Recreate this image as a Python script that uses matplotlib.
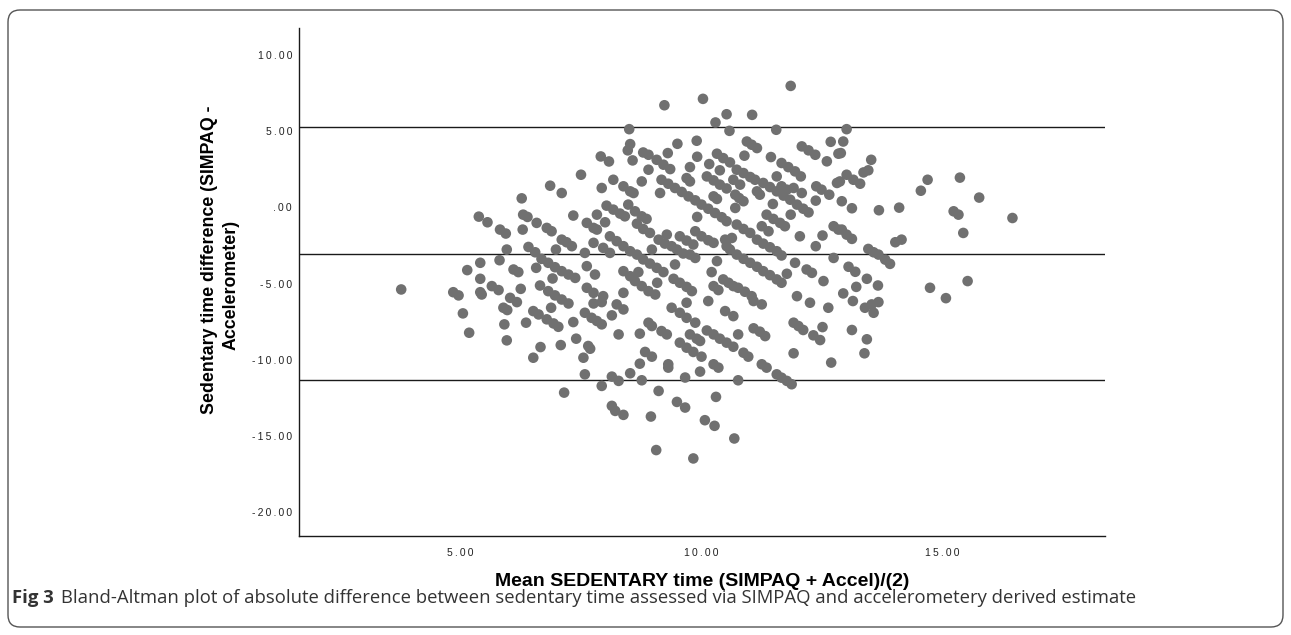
import matplotlib
matplotlib.use('Agg')
import matplotlib.pyplot as plt
from matplotlib.patches import FancyBboxPatch
from matplotlib.transforms import IdentityTransform
from matplotlib.ticker import FuncFormatter

# (mean, difference) pairs, grouped by region
pts_left = [(7.51, 2.14), (6.87, 1.42), (7.11, 0.94), (6.28, 0.59), (5.39, -0.61), (5.57, -0.98),
            (6.31, -0.48), (6.40, -0.63), (6.59, -1.02), (5.83, -1.46), (5.95, -1.72), (6.30, -1.46),
            (6.80, -1.35), (6.90, -1.57), (7.35, -0.54), (5.97, -2.77), (6.42, -2.60), (6.56, -2.95),
            (6.99, -2.77), (7.11, -2.12), (7.21, -2.29), (7.32, -2.55), (5.42, -3.64), (5.82, -3.47),
            (5.15, -4.12), (5.42, -4.69), (6.58, -3.97), (6.69, -3.38), (6.83, -3.64), (6.97, -3.93),
            (7.11, -4.19), (7.25, -4.41), (7.39, -4.63), (6.11, -4.08), (6.21, -4.25), (6.92, -4.67),
            (4.86, -5.57), (4.97, -5.78), (5.42, -5.57), (5.45, -5.72), (5.66, -5.17), (5.80, -5.43),
            (6.26, -5.35), (6.66, -5.13), (6.83, -5.50), (6.97, -5.78), (7.11, -6.05), (7.25, -6.31),
            (3.78, -5.39), (6.04, -5.94), (6.18, -6.22), (5.90, -6.59), (5.98, -6.74), (5.06, -6.96),
            (6.89, -6.59), (6.52, -6.81), (6.63, -7.03), (6.80, -7.35), (6.94, -7.62), (7.04, -7.84),
            (7.35, -7.53), (5.92, -7.68), (6.37, -7.57), (5.19, -8.23), (5.97, -8.73), (6.67, -9.17),
            (6.52, -9.87), (7.09, -9.04), (7.41, -8.62), (7.16, -12.16)]

pts_mid_top = [(11.86, 7.97), (9.24, 6.70), (10.04, 7.12), (10.53, 6.11), (10.30, 5.57), (11.06, 6.07),
               (8.51, 5.13), (10.59, 5.02), (11.56, 5.09), (8.53, 4.15), (8.48, 3.74), (8.58, 3.08),
               (8.80, 3.60), (8.91, 3.45), (9.31, 3.56), (9.51, 4.17), (9.91, 4.37), (9.92, 3.32),
               (7.92, 3.34), (8.09, 3.01), (9.08, 3.12), (9.22, 2.80), (9.36, 2.51), (10.17, 2.84),
               (10.33, 3.52), (10.46, 3.23), (10.60, 2.95), (10.90, 3.39), (10.95, 4.32), (11.05, 4.11),
               (11.16, 3.89), (11.45, 3.30), (12.09, 4.00), (12.23, 3.74), (12.37, 3.45), (12.69, 4.30),
               (12.61, 3.02), (12.85, 3.52), (11.67, 2.91), (11.81, 2.64), (11.95, 2.36), (12.07, 2.03),
               (8.91, 2.47), (8.77, 1.70), (8.39, 1.38), (8.53, 1.05), (8.60, 0.94), (8.18, 1.81),
               (7.94, 1.27), (9.18, 1.81), (9.32, 1.55), (9.46, 1.27), (9.60, 1.01), (9.74, 0.72),
               (9.88, 0.46), (10.01, 0.18), (10.15, -0.09), (10.29, -0.37), (10.43, -0.65), (10.53, -0.91),
               (9.77, 2.64), (9.70, 1.92), (9.77, 1.70), (10.12, 2.03), (10.26, 1.77), (10.39, 1.49),
               (10.53, 1.24), (10.39, 2.43), (10.74, 2.47), (10.88, 2.25), (11.02, 1.99), (11.12, 1.81),
               (10.67, 1.81), (10.81, 1.49), (11.29, 1.60), (11.43, 1.33), (11.57, 1.05), (11.71, 0.77),
               (11.85, 0.50), (11.99, 0.18), (12.12, -0.09), (12.23, -0.33), (11.57, 2.03), (11.67, 1.38),
               (11.78, 1.16), (11.92, 1.27), (12.09, 0.94), (12.39, 1.38), (12.50, 1.16), (12.82, 1.60),
               (12.66, 0.83), (12.38, 0.44), (9.15, 0.94), (10.26, 0.72), (10.33, 0.55), (10.71, 0.83),
               (10.79, 0.61), (10.88, 0.40), (10.71, -0.04), (11.16, 1.05), (11.22, 0.83), (11.49, 0.22),
               (11.86, -0.48), (12.05, -1.90), (7.63, -1.02), (7.77, -1.35), (7.84, -0.48), (7.84, -1.46),
               (8.04, 0.11), (8.18, -0.15), (8.32, -0.41), (8.42, -0.59), (8.01, -0.98), (8.49, 0.18),
               (8.63, -0.26), (8.77, -0.59), (8.87, -0.76), (8.67, -1.07), (8.80, -1.42), (8.94, -1.68),
               (8.98, -2.77), (9.12, -2.12), (9.25, -2.38), (9.39, -2.55), (9.29, -1.79), (9.56, -1.90),
               (9.70, -2.18), (9.84, -2.44), (9.92, -0.63), (9.88, -1.57), (10.01, -1.90), (10.15, -2.16),
               (10.26, -2.33), (10.50, -2.12), (10.53, -2.55), (10.64, -2.01), (10.74, -1.13), (10.88, -1.42),
               (11.02, -1.68), (11.16, -2.12), (11.29, -2.38), (11.43, -2.62), (11.57, -2.88), (11.67, -3.16),
               (11.26, -1.24), (11.40, -1.57), (11.36, -0.48), (11.50, -0.76), (11.64, -1.02), (11.74, -1.24),
               (12.38, -2.55), (12.52, -1.85), (12.75, -1.24), (12.85, -1.46), (12.75, -3.32), (7.59, -2.99),
               (7.77, -2.33), (7.97, -2.66), (8.11, -2.99), (8.11, -1.90), (8.25, -2.22), (8.39, -2.55),
               (8.53, -2.88), (8.67, -3.10), (8.80, -3.42), (8.94, -3.69), (9.08, -3.97), (9.22, -4.25),
               (9.46, -3.75), (9.77, -3.10), (9.88, -3.32), (9.50, -2.77), (9.63, -3.03), (10.33, -3.53),
               (10.22, -4.25), (10.60, -2.77), (10.74, -3.10), (10.88, -3.38), (11.02, -3.64), (11.16, -3.90),
               (11.29, -4.19), (11.43, -4.45), (11.57, -4.73), (11.67, -4.95), (10.46, -4.73), (10.57, -4.95),
               (10.67, -5.17), (10.26, -5.17), (10.36, -5.43), (10.77, -5.28), (10.91, -5.54), (11.05, -5.83),
               (11.78, -4.36), (11.95, -3.64), (12.19, -4.08), (12.30, -4.30), (12.54, -4.84), (11.99, -5.83),
               (7.63, -3.86), (7.80, -4.41), (7.63, -5.28), (7.77, -5.61), (8.39, -4.19), (8.53, -4.52),
               (8.70, -4.25), (8.63, -4.84), (8.77, -5.17), (8.91, -5.50), (9.05, -5.72), (9.09, -4.95),
               (9.43, -4.69), (9.56, -4.95), (9.70, -5.22), (9.81, -5.50), (8.39, -5.61), (7.97, -5.83)]

pts_mid_low = [(7.77, -6.31), (7.94, -6.22), (8.25, -6.37), (8.39, -6.70), (7.59, -6.92), (7.73, -7.25),
               (8.15, -7.09), (7.84, -7.46), (7.94, -7.68), (8.29, -8.34), (8.73, -8.29), (8.91, -7.57),
               (8.98, -7.79), (9.18, -8.12), (9.29, -8.34), (9.39, -6.59), (9.56, -6.92), (9.70, -6.26),
               (9.70, -7.25), (9.88, -7.57), (10.15, -6.15), (9.77, -8.34), (9.91, -8.62), (9.98, -8.77),
               (9.56, -8.88), (9.70, -9.21), (9.84, -9.49), (10.01, -9.80), (10.12, -8.08), (10.26, -8.34),
               (10.39, -8.62), (10.53, -8.88), (10.67, -9.15), (10.50, -6.81), (10.67, -7.14), (10.77, -8.34),
               (10.88, -9.54), (10.98, -9.80), (11.09, -7.94), (11.22, -8.16), (11.33, -8.45), (11.26, -10.30),
               (11.36, -10.52), (11.09, -6.15), (11.26, -6.37), (11.92, -7.57), (12.02, -7.79), (12.12, -8.05),
               (12.26, -6.26), (12.33, -8.40), (12.47, -8.71), (12.52, -7.86), (12.64, -6.59), (11.92, -9.58),
               (12.70, -10.19), (11.57, -10.96), (11.67, -11.18), (11.78, -11.39), (11.88, -11.61), (10.77, -11.35),
               (10.26, -10.30), (10.36, -10.52), (9.98, -10.78), (9.67, -11.17), (9.32, -10.30), (9.32, -10.52),
               (8.73, -10.26), (8.53, -10.89), (8.84, -9.49), (8.98, -9.80), (7.56, -9.87), (7.66, -9.10),
               (7.70, -9.28), (7.59, -10.96), (8.15, -11.11), (8.29, -11.39), (7.94, -11.72), (8.77, -11.35),
               (9.12, -12.05), (9.50, -12.77), (9.67, -13.14), (8.15, -13.03), (8.22, -13.36), (8.39, -13.62),
               (8.96, -13.73), (10.08, -13.97), (10.28, -14.34), (10.31, -12.44), (10.69, -15.17), (9.07, -15.93),
               (9.84, -16.48)]

pts_right = [(13.02, 5.13), (12.95, 4.32), (12.90, 3.56), (13.53, 3.12), (13.02, 2.14), (13.16, 1.81),
             (13.30, 1.55), (13.37, 2.29), (13.47, 2.43), (12.88, 1.70), (12.92, 0.40), (13.13, -0.06),
             (13.69, -0.19), (14.11, -0.02), (14.56, 1.09), (14.70, 1.81), (15.37, 1.95), (15.77, 0.64),
             (15.24, -0.26), (15.34, -0.48), (16.46, -0.70), (15.44, -1.68), (14.03, -2.29), (14.16, -2.12),
             (12.92, -1.46), (13.02, -1.79), (13.13, -2.07), (13.47, -2.73), (13.58, -2.95), (13.68, -3.10),
             (13.82, -3.43), (13.92, -3.71), (13.06, -3.90), (13.20, -4.23), (13.44, -4.69), (13.22, -5.22),
             (13.67, -5.13), (14.75, -5.28), (15.08, -5.96), (15.53, -4.84), (12.95, -5.65), (13.15, -6.15),
             (13.40, -6.59), (13.54, -6.37), (13.68, -6.22), (13.58, -6.92), (13.13, -8.05), (13.44, -8.66),
             (13.39, -9.58)]

# mean difference and limits of agreement
upper_loa = 5.24
mean_diff = -3.05
lower_loa = -11.33

x_ticks = [5, 10, 15]
y_ticks = [-20, -15, -10, -5, 0, 5, 10]

caption_bold = 'Fig 3'
caption_text = ('Bland-Altman plot of absolute difference between sedentary time assessed via SIMPAQ '
                'and accelerometery derived estimate')

all_pts = pts_left + pts_mid_top + pts_mid_low + pts_right
mean_vals = [p[0] for p in all_pts]
diff_vals = [p[1] for p in all_pts]

plt.rcParams['font.family'] = ['Liberation Sans', 'DejaVu Sans']

W, H = 1291, 635
fig = plt.figure(figsize=(W / 100, H / 100), dpi=100)
ax = fig.add_axes([299 / W, 1 - 536 / H, (1105 - 299) / W, (536 - 28) / H])

ax.scatter(mean_vals, diff_vals, s=58, color='#707070', edgecolors='none', zorder=3)
for yv in [upper_loa, mean_diff, lower_loa]:
    ax.axhline(yv, color='#1a1a1a', lw=1.0, zorder=2)

ax.set_xlim(1.66, 18.38)
ax.set_ylim(-21.57, 11.77)
ax.set_xticks(x_ticks)
ax.set_yticks(y_ticks)


def fmt(v, pos):
    s = f'{v:.2f}'
    if s in ('0.00', '-0.00'):
        s = '.00'
    # SPSS style labels are widely spaced
    return '\u2009'.join(s)


ax.xaxis.set_major_formatter(FuncFormatter(fmt))
ax.yaxis.set_major_formatter(FuncFormatter(fmt))
ax.tick_params(length=0, labelsize=7.5, colors='#222222')
ax.tick_params(axis='x', pad=8.5)
ax.tick_params(axis='y', pad=5)
for side in ['top', 'right']:
    ax.spines[side].set_visible(False)
for side in ['left', 'bottom']:
    ax.spines[side].set_color('#1a1a1a')
    ax.spines[side].set_linewidth(1.0)

ax.set_xlabel('Mean SEDENTARY time (SIMPAQ + Accel)/(2)', fontsize=14, fontweight='bold')
ax.xaxis.set_label_coords(0.5, (536 - 581) / 508)
ax.xaxis.label.set_va('center')

fig.text(210 / W, 1 - 260 / H, 'Sedentary time difference (SIMPAQ -', rotation=90,
         ha='center', va='center', fontsize=12.8, fontweight='bold')
fig.text(231 / W, 1 - 285 / H, 'Accelerometer)', rotation=90,
         ha='center', va='center', fontsize=12.8, fontweight='bold')

# rounded frame around the figure
frame = FancyBboxPatch((8, 8), 1275, 617, boxstyle='round,pad=0,rounding_size=12',
                       transform=IdentityTransform(), facecolor='none', edgecolor='#555555', lw=1.0)
fig.add_artist(frame)

# caption, sized so that it runs from x=12 to about x=1135
cap_family = ['Open Sans', 'DejaVu Sans']
t1 = fig.text(12 / W, 1 - 598 / H, caption_bold, fontsize=10, fontweight='bold',
              family=cap_family, va='center', color='#333333')
t2 = fig.text(0, 1 - 598 / H, caption_text, fontsize=10, family=cap_family, va='center', color='#333333')
fig.canvas.draw()
r = fig.canvas.get_renderer()
w1 = t1.get_window_extent(r).width
w2 = t2.get_window_extent(r).width
gap = 0.55 * 10
size = 10 * (1135 - 12) / (w1 + w2 + gap)
t1.set_fontsize(size)
t2.set_fontsize(size)
fig.canvas.draw()
bb = t1.get_window_extent(r)
t2.set_x((bb.x1 + 0.55 * size) / W)

fig.savefig('out.png', dpi=100)
